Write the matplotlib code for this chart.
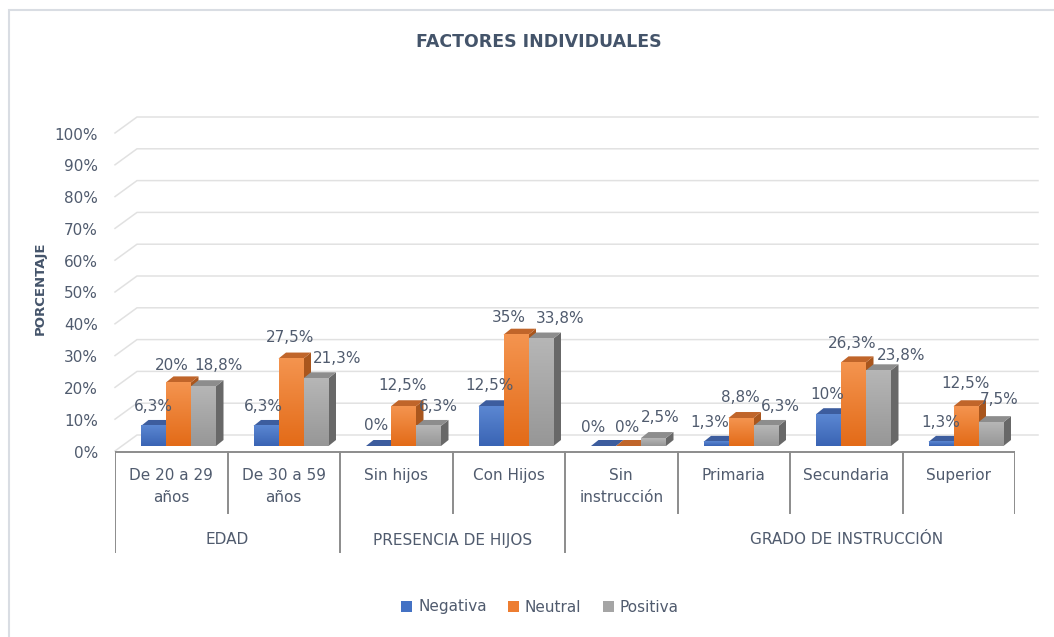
"""
Factores individuales: 3D-style grouped column chart (Excel look) drawn with matplotlib.
"""
import numpy as np
import matplotlib
matplotlib.use('Agg')
import matplotlib.pyplot as plt
from matplotlib.patches import Polygon, Patch, Rectangle
from matplotlib.colors import LinearSegmentedColormap

plt.rcParams['font.family'] = ['DejaVu Sans']

# ---- data ----
categories = ['De 20 a 29\naños', 'De 30 a 59\naños', 'Sin hijos', 'Con Hijos',
              'Sin\ninstrucción', 'Primaria', 'Secundaria', 'Superior']
groups = ['EDAD', 'PRESENCIA DE HIJOS', 'GRADO DE INSTRUCCIÓN']
group_edges = [-0.5, 1.5, 3.5]          # long separators of the category table
group_label_x = [0.5, 2.5, 6.0]
series_names = ['Negativa', 'Neutral', 'Positiva']
negativa = [6.3, 6.3, 0, 12.5, 0, 1.3, 10, 1.3]
neutral = [20, 27.5, 12.5, 35, 0, 8.8, 26.3, 12.5]
positiva = [18.8, 21.3, 6.3, 33.8, 2.5, 6.3, 23.8, 7.5]
y_ticks = [0, 10, 20, 30, 40, 50, 60, 70, 80, 90, 100]

# label nudges (pixels) so the labels sit where Excel put them
label_dx = [[-0.5, -2.5, -2, -1.5, -10.5, -6.5, -1, -0.5],
            [-6.5, -1, -1.5, -7, -1, -1, -1.5, -0.5],
            [15.5, 21.5, 10, 19.5, 6.5, 14, 22.5, 8.5]]
label_up = [[19, 19, 21, 21, 19, 19, 20, 19],
            [17, 21.5, 21, 17, 19, 21, 19, 23],
            [21, 20, 19, 20.5, 21, 19, 15, 23]]

values = [negativa, neutral, positiva]

# ---- styling ----
TXT = '#505b6e'
TITLE_C = '#44546A'
GRID_C = '#e1e1e1'
TABLE_C = '#8c8c8c'
FS = 11
front_cols = [('#3a64b4', '#5b87d2'), ('#e36b18', '#f4944f'), ('#979797', '#b6b6b6')]
top_cols = ['#3d5d9e', '#c0652a', '#8d8d8d']
side_cols = ['#2e4d86', '#a9561d', '#686868']
legend_cols = ['#4472C4', '#ED7D31', '#A5A5A5']

# geometry (one category = 112.5 px, 10% = 31.8 px)
PX_X = 112.5
PX_Y = 3.18
BAR_W = 25 / PX_X
LEFT_PAD = 26 / PX_X
DX = 7.5 / PX_X
DY = 6 / PX_Y
GRID_FRONT = -5 / PX_Y
GRID_WALL = 11 / PX_Y
GRID_DX = 22 / PX_X
GRID_END = 923 / PX_X - 0.5

fig = plt.figure(figsize=(10.54, 6.37), dpi=100)
ax = fig.add_axes([115 / 1054, 1 - 560 / 637, 900 / 1054, 450 / 637])
ax.axis('off')
ylo, yhi = -114 / PX_Y, 336 / PX_Y

# back wall gridlines + tick labels
for k in y_ticks:
    ax.plot([-0.5, -0.5 + GRID_DX, GRID_END],
            [k + GRID_FRONT, k + GRID_WALL, k + GRID_WALL],
            color=GRID_C, lw=1.1, zorder=1, clip_on=False)
    ax.text(-0.5 - 17 / PX_X, k - 7 / PX_Y, f'{k}%', ha='right', va='center',
            fontsize=FS, color=TXT)

# bars
grad = np.linspace(0, 1, 64).reshape(-1, 1)
z = 2
for i in range(len(categories)):
    for j, vals in enumerate(values):
        v = vals[i]
        x0 = i - 0.5 + LEFT_PAD + j * BAR_W
        side = Polygon([(x0 + BAR_W, 0), (x0 + BAR_W + DX, DY),
                        (x0 + BAR_W + DX, v + DY), (x0 + BAR_W, v)],
                       closed=True, fc=side_cols[j], ec='none', zorder=z)
        top = Polygon([(x0, v), (x0 + BAR_W, v), (x0 + BAR_W + DX, v + DY), (x0 + DX, v + DY)],
                      closed=True, fc=top_cols[j], ec='none', zorder=z + 0.1)
        ax.add_patch(side)
        ax.add_patch(top)
        if v > 0:
            cmap = LinearSegmentedColormap.from_list('f', front_cols[j])
            ax.imshow(grad, extent=(x0, x0 + BAR_W, 0, v), origin='lower', cmap=cmap,
                      aspect='auto', interpolation='bilinear', zorder=z + 0.2)
        z += 1

# data labels
for j, vals in enumerate(values):
    for i, v in enumerate(vals):
        xc = i - 0.5 + LEFT_PAD + (j + 0.5) * BAR_W
        txt = f'{v:g}'.replace('.', ',') + '%'
        ax.annotate(txt, xy=(xc, v), xytext=(label_dx[j][i] * 0.72, label_up[j][i] * 0.72),
                    textcoords='offset points', ha='center', va='center',
                    fontsize=FS, color=TXT, zorder=100)

# category table
table_top = -6 / PX_Y
ax.plot([-0.5, 7.5], [table_top, table_top], color=TABLE_C, lw=1.4, zorder=3)
for b in np.arange(-0.5, len(categories)):
    bottom = -106 / PX_Y if b in group_edges else -67 / PX_Y
    ax.plot([b, b], [table_top, bottom], color=TABLE_C, lw=1.4, zorder=3)
for i, c in enumerate(categories):
    ax.text(i, -22 / PX_Y, c, ha='center', va='top', fontsize=FS, color=TXT,
            linespacing=1.6, multialignment='center')
for gx, g in zip(group_label_x, groups):
    ax.text(gx, -94 / PX_Y, g, ha='center', va='center', fontsize=FS, color=TXT)

ax.set_xlim(-0.5, 7.5)
ax.set_ylim(ylo, yhi)

# titles
fig.text(539 / 1054, 1 - 42 / 637, 'FACTORES INDIVIDUALES', ha='center', va='center',
         fontsize=12.5, fontweight='bold', color=TITLE_C)
fig.text(40 / 1054, 1 - 288 / 637, 'PORCENTAJE', rotation=90, ha='center', va='center',
         fontsize=9.5, fontweight='bold', color=TITLE_C)

# legend
handles = [Patch(facecolor=c, edgecolor='none') for c in legend_cols]
fig.legend(handles, series_names, loc='center', bbox_to_anchor=(540 / 1054, 1 - 607 / 637),
           ncol=3, frameon=False, fontsize=FS, handlelength=0.7, handleheight=0.7,
           handletextpad=0.4, columnspacing=1.4, labelcolor=TXT)

# chart area border
fig.add_artist(Rectangle((9 / 1054, -0.1), 1.2, 1.1 - 10 / 637, transform=fig.transFigure,
                         fill=False, ec='#d9dde3', lw=1.5))

fig.savefig('out.png', dpi=100)
